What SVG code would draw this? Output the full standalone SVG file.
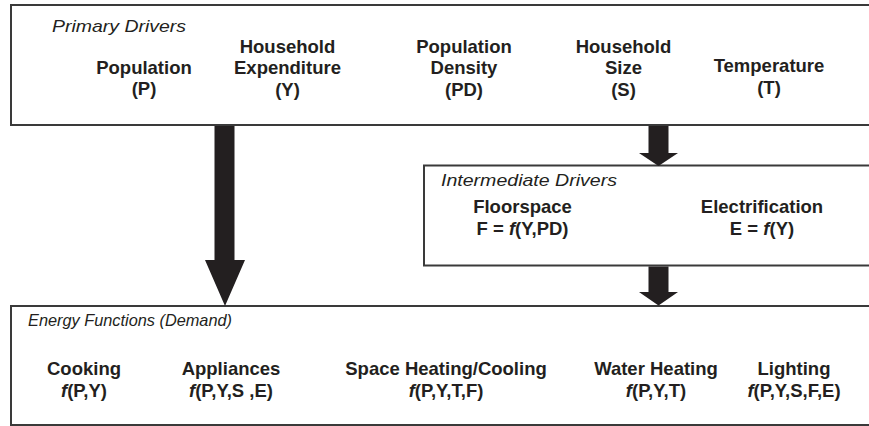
<svg xmlns="http://www.w3.org/2000/svg" width="869" height="426" viewBox="0 0 869 426">
  <style>
    .box { fill: #ffffff; stroke: #3a3a3a; stroke-width: 2; }
    .arrow { fill: #231f20; }
    .title { font-family: "Liberation Sans", Arial, sans-serif; font-size: 17px; font-style: italic; fill: #231f20; }
    .lbl { font-family: "Liberation Sans", Arial, sans-serif; font-size: 18.5px; font-weight: bold; fill: #231f20; text-anchor: middle; }
    .fn { font-style: italic; }
  </style>
  <rect width="869" height="426" fill="#ffffff"/>

  <!-- Primary drivers -->
  <g id="primary">
    <rect class="box" x="11" y="5" width="870" height="120"/>
    <text class="title" x="52" y="31.5" textLength="134" lengthAdjust="spacingAndGlyphs">Primary Drivers</text>
    <text class="lbl" x="144" y="73.5">Population</text>
    <text class="lbl" x="144" y="95">(P)</text>
    <text class="lbl" x="287.5" y="52.5">Household</text>
    <text class="lbl" x="287.5" y="74">Expenditure</text>
    <text class="lbl" x="287.5" y="96">(Y)</text>
    <text class="lbl" x="464" y="52.5">Population</text>
    <text class="lbl" x="464" y="74">Density</text>
    <text class="lbl" x="464" y="96">(PD)</text>
    <text class="lbl" x="623.5" y="52.5">Household</text>
    <text class="lbl" x="623.5" y="74">Size</text>
    <text class="lbl" x="623.5" y="96">(S)</text>
    <text class="lbl" x="769" y="72">Temperature</text>
    <text class="lbl" x="769" y="94">(T)</text>
  </g>

  <!-- Intermediate drivers -->
  <g id="intermediate">
    <rect class="box" x="424" y="165.5" width="460" height="100"/>
    <text class="title" x="441" y="186" textLength="176" lengthAdjust="spacingAndGlyphs">Intermediate Drivers</text>
    <text class="lbl" x="522.5" y="213">Floorspace</text>
    <text class="lbl" x="522.5" y="234.5">F = <tspan class="fn">f</tspan>(Y,PD)</text>
    <text class="lbl" x="762" y="213">Electrification</text>
    <text class="lbl" x="762" y="234.5">E = <tspan class="fn">f</tspan>(Y)</text>
  </g>

  <!-- Energy functions -->
  <g id="energy">
    <rect class="box" x="11" y="306" width="870" height="119"/>
    <text class="title" x="28" y="326" textLength="204" lengthAdjust="spacingAndGlyphs">Energy Functions (Demand)</text>
    <text class="lbl" x="84" y="375">Cooking</text>
    <text class="lbl" x="84" y="396.5"><tspan class="fn">f</tspan>(P,Y)</text>
    <text class="lbl" x="231" y="375">Appliances</text>
    <text class="lbl" x="231" y="396.5"><tspan class="fn">f</tspan>(P,Y,S ,E)</text>
    <text class="lbl" x="446" y="375">Space Heating/Cooling</text>
    <text class="lbl" x="446" y="396.5"><tspan class="fn">f</tspan>(P,Y,T,F)</text>
    <text class="lbl" x="656" y="375">Water Heating</text>
    <text class="lbl" x="656" y="396.5"><tspan class="fn">f</tspan>(P,Y,T)</text>
    <text class="lbl" x="794" y="375">Lighting</text>
    <text class="lbl" x="794" y="396.5"><tspan class="fn">f</tspan>(P,Y,S,F,E)</text>
  </g>

  <!-- Block arrows between levels -->
  <g id="connectors">
    <polygon class="arrow" points="214.5,126 234.5,126 234.5,260 245,260 225,306 205,260 214.5,260"/>
    <polygon class="arrow" points="648.5,126 668.5,126 668.5,153 678,153 658.5,166 639,153 648.5,153"/>
    <polygon class="arrow" points="648.5,266.5 668.5,266.5 668.5,292 678,292 658.5,305.5 639,292 648.5,292"/>
  </g>
</svg>
